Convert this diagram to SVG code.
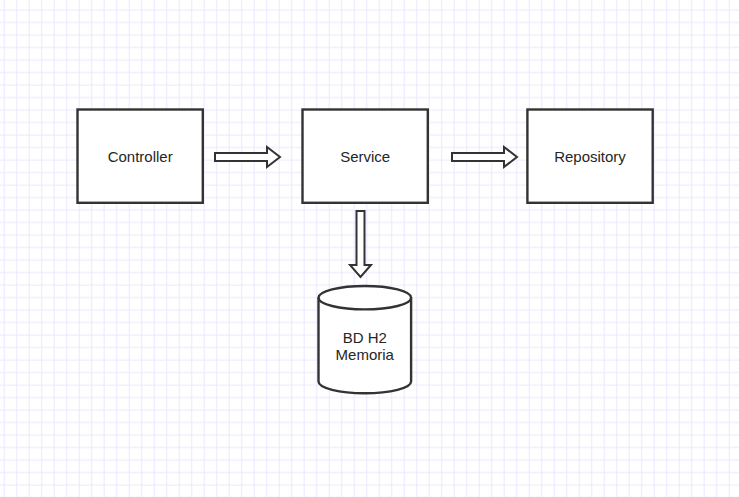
<svg xmlns="http://www.w3.org/2000/svg" width="739" height="497" viewBox="0 0 739 497">
  <style>
    .box { fill: #ffffff; stroke: #333333; stroke-width: 2.4; }
    .arrow { fill: #ffffff; stroke: #333333; stroke-width: 2; stroke-linejoin: miter; }
    .label { font-family: "Liberation Sans", Arial, sans-serif; font-size: 15px; fill: #262626; text-anchor: middle; }
  </style>
  <defs>
    <!-- 12.5px background grid, tiled in 25px cells -->
    <pattern id="grid" patternUnits="userSpaceOnUse" x="-2.08" y="3.75" width="25" height="25">
      <path d="M6.25,0 V25 M18.75,0 V25 M0,6.25 H25 M0,18.75 H25" fill="none" stroke="#ebe7ff" stroke-width="1"/>
    </pattern>
  </defs>

  <rect x="0" y="0" width="739" height="497" fill="#ffffff"/>
  <rect x="0" y="0" width="739" height="497" fill="url(#grid)"/>

  <g id="connectors">
    <!-- Controller to Service -->
    <polygon class="arrow" points="215,153 267,153 267,147 280,157 267,167 267,161 215,161"/>
    <!-- Service to Repository -->
    <polygon class="arrow" points="452,153 504,153 504,147 517,157 504,167 504,161 452,161"/>
    <!-- Service to database -->
    <polygon class="arrow" points="356.5,211 364.5,211 364.5,265 371,265 360.5,277 350,265 356.5,265"/>
  </g>

  <g id="controller">
    <rect class="box" x="77.5" y="109.5" width="125.3" height="93.3"/>
    <text class="label" x="140.2" y="162">Controller</text>
  </g>

  <g id="service">
    <rect class="box" x="302.5" y="109.5" width="125.3" height="93.3"/>
    <text class="label" x="365.2" y="162">Service</text>
  </g>

  <g id="repository">
    <rect class="box" x="527.4" y="109.5" width="125.3" height="93.3"/>
    <text class="label" x="590" y="162">Repository</text>
  </g>

  <g id="database">
    <path class="box" d="M318.5,297.7 A46.3,11.7 0 0 1 411.1,297.7 V381.6 A46.3,11.7 0 0 1 318.5,381.6 Z"/>
    <path d="M318.5,297.7 A46.3,11.7 0 0 0 411.1,297.7" fill="none" stroke="#333333" stroke-width="2.4"/>
    <text class="label" x="364.8" y="343">BD H2</text>
    <text class="label" x="364.8" y="360">Memoria</text>
  </g>
</svg>
